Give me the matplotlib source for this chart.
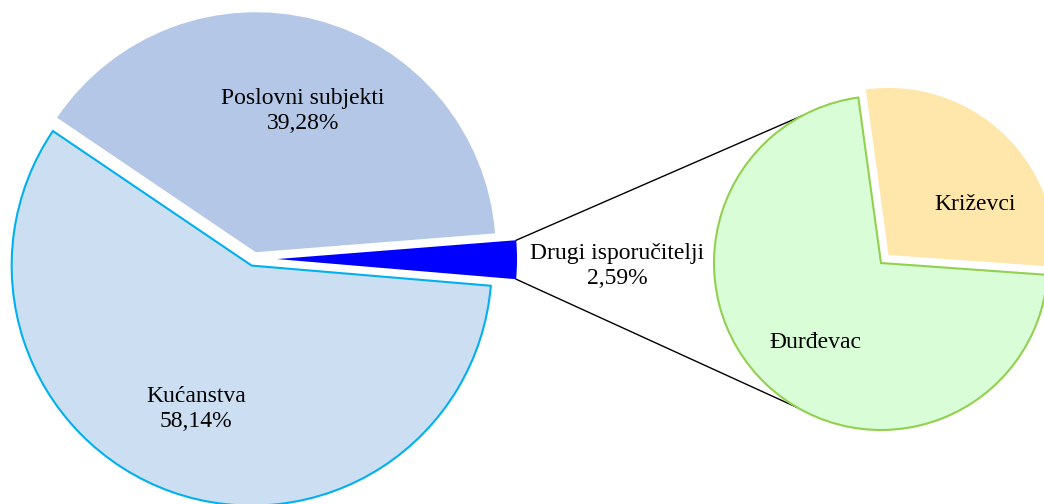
import matplotlib.pyplot as plt
import numpy as np

# main pie
main_labels = ['Kućanstva', 'Drugi isporučitelji', 'Poslovni subjekti']
main_values = [58.14, 2.59, 39.28]
main_pct = ['58,14%', '2,59%', '39,28%']

# breakdown of "Drugi isporučitelji"
sub_labels = ['Đurđevac', 'Križevci']
sub_values = [71.7, 28.3]

plt.rcParams['font.family'] = ['Liberation Serif', 'DejaVu Serif']

fig = plt.figure(figsize=(10.44, 5.04), dpi=100)
ax = fig.add_axes([0, 0, 1, 1])

c1 = (254, 245)
r1 = 240
start1 = 145.9
# explode is given in data units here (pie adds it as-is)
explode1 = [7, 23, 7]
wedges1, _ = ax.pie(main_values, center=c1, radius=r1, startangle=start1,
                    counterclock=True, explode=explode1,
                    colors=['#CCDFF2', '#0000FF', '#B4C7E7'],
                    wedgeprops=dict(linewidth=0), frame=True)
wedges1[0].set_edgecolor('#00B0F0')
wedges1[0].set_linewidth(1.5)

c2 = (881, 241)
r2 = 167
wedges2, _ = ax.pie(sub_values, center=c2, radius=r2, startangle=97.8,
                    counterclock=True, explode=[0, 11],
                    colors=['#D9FDD6', '#FFE7AB'],
                    wedgeprops=dict(linewidth=0), frame=True)
wedges2[0].set_edgecolor('#92D050')
wedges2[0].set_linewidth(1.5)

ax.set_xlim(0, 1044)
ax.set_ylim(0, 504)
ax.set_aspect('equal')
ax.axis('off')

# connector lines from the "other" slice to the second pie
frac = np.cumsum([0] + main_values) / sum(main_values) * 360 + start1
a0, a1 = frac[1], frac[2]
mid = np.deg2rad((a0 + a1) / 2)
off = explode1[1]
dc = (c1[0] + off * np.cos(mid), c1[1] + off * np.sin(mid))
for a_src, a_dst in [(a1, 118), (a0, 240)]:
    p = (dc[0] + r1 * np.cos(np.deg2rad(a_src)), dc[1] + r1 * np.sin(np.deg2rad(a_src)))
    q = (c2[0] + r2 * np.cos(np.deg2rad(a_dst)), c2[1] + r2 * np.sin(np.deg2rad(a_dst)))
    ax.plot([p[0], q[0]], [p[1], q[1]], color='black', lw=1, zorder=0)

fs = 17
ls = 1.3
ax.text(303, 393, main_labels[2] + '\n' + main_pct[2], ha='center', va='center',
        fontsize=fs, linespacing=ls)
ax.text(196, 95, main_labels[0] + '\n' + main_pct[0], ha='center', va='center',
        fontsize=fs, linespacing=ls)
ax.text(617, 238, main_labels[1] + '\n' + main_pct[1], ha='center', va='center',
        fontsize=fs, linespacing=ls)
ax.text(975, 300, sub_labels[1], ha='center', va='center', fontsize=fs)
ax.text(815, 162, sub_labels[0], ha='center', va='center', fontsize=fs)

fig.savefig('out.png', dpi=100)
